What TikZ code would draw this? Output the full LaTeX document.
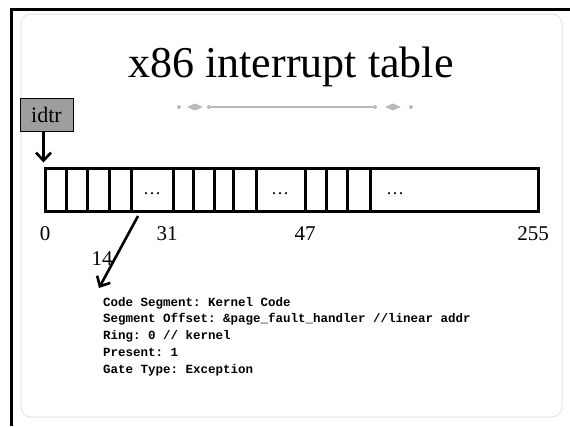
\documentclass[tikz,border=0pt]{standalone}
\usepackage{fontspec}
\setmainfont{Liberation Serif}
\newfontfamily\codefont{Liberation Mono}
\usetikzlibrary{arrows.meta}

\begin{document}
\begin{tikzpicture}[x=1pt, y=-1pt,
  tbl/.style={line width=3pt},
  ptr/.style={line width=2.6pt, -{Straight Barb[length=8pt,width=15pt]}},
  lbl/.style={anchor=base, font=\fontsize{21}{24}\selectfont},
  gapdots/.style={anchor=base, font=\fontsize{18}{20}\selectfont}]
  \useasboundingbox (0,0) rectangle (570,426);
  % slide frame
  \draw[gray!20, line width=1pt, rounded corners=10pt] (21,14) rectangle (562,417);
  \draw[line width=3pt] (11,426) -- (11,9.5) -- (570,9.5);
  % title
  \node[anchor=base, font=\fontsize{44}{50}\selectfont] (title) at (291,77) {x86 interrupt table};
  % ornament
  \begin{scope}[gray!55]
  \draw[line width=1.2pt] (209,107) -- (375,107);
  \foreach \x in {179,209,375,411} \fill (\x,107) circle (2);
  \foreach \x in {195,393} \fill (\x-8,107) -- (\x,103.5) -- (\x+8,107) -- (\x,110.5) -- cycle;
  \end{scope}
  % idtr register
  \node[draw, fill=black!38, line width=0.8pt, minimum width=53, minimum height=33,
        inner sep=0pt, font=\fontsize{22}{24}\selectfont] (idtr) at (46.5,114.5) {idtr};
  % table
  \node[draw, tbl, minimum width=493, minimum height=43, inner sep=0pt] (idt) at (291.5,189.5) {};
  \foreach \x in {66,87,109,131,173,193,214,233,256,305,326,347,370}
    \draw[tbl] (\x,168) -- (\x,211);
  \node[gapdots] (gap1) at (152,194) {…};
  \node[gapdots] (gap2) at (280,194) {…};
  \node[gapdots] (gap3) at (395,194) {…};
  \draw[ptr, shorten >=4pt] (idtr.south -| idt.north west) -- (idt.north west);
  % vector numbers
  \node[lbl] (n0) at (45,240) {0};
  \node[lbl] (n31) at (167,240) {31};
  \node[lbl] (n47) at (305,240) {47};
  \node[lbl] (n255) at (533,240) {255};
  \node[lbl] (n14) at (102,265) {14};
  % gate descriptor
  \node[anchor=north west, inner sep=0pt, align=left,
        font=\codefont\bfseries\frenchspacing\fontsize{12.5}{16.7}\selectfont] (gate) at (103,297)
    {Code Segment: Kernel Code\\
     Segment Offset: \&page\_fault\_handler //linear addr\\
     Ring: 0 // kernel\\
     Present: 1\\
     Gate Type: Exception};
  \coordinate (slot) at (138,216);
  \draw[ptr] (slot) -- ([shift={(-4,-9)}]gate.north west);
\end{tikzpicture}
\end{document}
